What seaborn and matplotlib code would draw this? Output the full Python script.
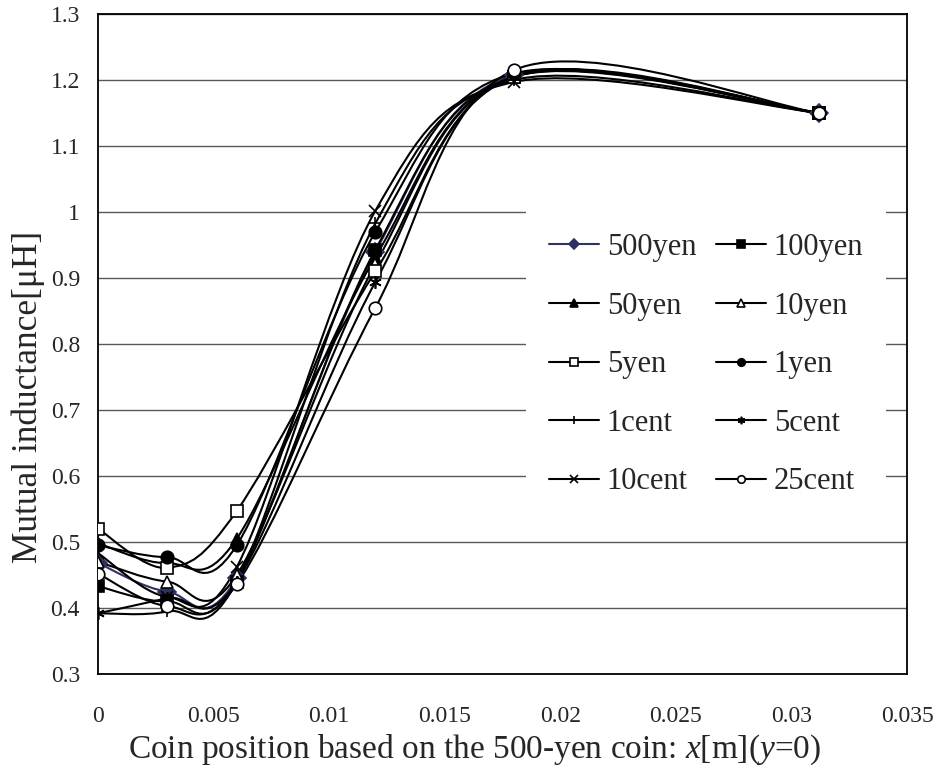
import numpy as np
import matplotlib
matplotlib.use("Agg")
import matplotlib.pyplot as plt
from matplotlib.path import Path
from matplotlib.patches import PathPatch
from matplotlib.lines import Line2D
import seaborn as sns

# --- data ---
x_pos = [0, 0.003, 0.006, 0.012, 0.018, 0.0312]

coins = ["500yen", "100yen", "50yen", "10yen", "5yen",
         "1yen", "1cent", "5cent", "10cent", "25cent"]

yen500 = [0.468, 0.425, 0.445, 0.940, 1.208, 1.150]
yen100 = [0.433, 0.410, 0.440, 0.943, 1.205, 1.150]
yen50 = [0.498, 0.468, 0.505, 0.932, 1.205, 1.150]
yen10 = [0.470, 0.440, 0.450, 0.921, 1.205, 1.150]
yen5 = [0.520, 0.461, 0.547, 0.910, 1.205, 1.150]
yen1 = [0.495, 0.477, 0.495, 0.970, 1.210, 1.150]
cent1 = [0.392, 0.395, 0.440, 0.983, 1.200, 1.150]
cent5 = [0.392, 0.415, 0.440, 0.894, 1.205, 1.150]
cent10 = [0.483, 0.417, 0.462, 1.002, 1.197, 1.150]
cent25 = [0.452, 0.403, 0.436, 0.855, 1.215, 1.150]

values = [yen500, yen100, yen50, yen10, yen5, yen1, cent1, cent5, cent10, cent25]

# marker style per coin: (marker, filled, colour)
NAVY = "#2e3163"
styles = {
    "500yen": ("D", True, NAVY),
    "100yen": ("s", True, "black"),
    "50yen": ("^", True, "black"),
    "10yen": ("^", False, "black"),
    "5yen": ("s", False, "black"),
    "1yen": ("o", True, "black"),
    "1cent": ("+", False, "black"),
    "5cent": ((6, 2, 0), False, "black"),
    "10cent": ("x", False, "black"),
    "25cent": ("o", False, "black"),
}


def smooth_path(xs, ys):
    """Excel-like smoothed line as cubic bezier segments through the points."""
    pts = np.column_stack([xs, ys])
    ext = np.vstack([pts[0], pts, pts[-1]])
    verts = [pts[0]]
    codes = [Path.MOVETO]
    for i in range(len(pts) - 1):
        p0, p1, p2, p3 = ext[i], ext[i + 1], ext[i + 2], ext[i + 3]
        c1 = p1 + (p2 - p0) / 6.0
        c2 = p2 - (p3 - p1) / 6.0
        verts += [c1, c2, p2]
        codes += [Path.CURVE4] * 3
    return Path(verts, codes)


sns.set_style("white")
plt.rcParams["font.family"] = ["Liberation Serif", "DejaVu Serif"]
plt.rcParams["mathtext.fontset"] = "custom"
plt.rcParams["mathtext.rm"] = "Liberation Serif"
plt.rcParams["mathtext.it"] = "Liberation Serif:italic"

fig = plt.figure(figsize=(9.39, 7.69), dpi=100)
ax = fig.add_axes([0.1044, 0.1235, 0.8616, 0.8583])

handles = {}
for name, vals in zip(coins, values):
    marker, filled, col = styles[name]
    patch = PathPatch(smooth_path(x_pos, vals), facecolor="none",
                      edgecolor=col, lw=1.5, zorder=3)
    ax.add_patch(patch)
    face = col if filled else "white"
    sns.lineplot(x=x_pos, y=vals, ax=ax, linestyle="none", marker=marker,
                 markersize=9, markerfacecolor=face, markeredgecolor=col,
                 markeredgewidth=1.2, color=col, errorbar=None, zorder=5)
    handles[name] = Line2D([], [], color=col, lw=1.5, marker=marker,
                           markersize=9, markerfacecolor=face,
                           markeredgecolor=col, markeredgewidth=1.2, label=name)

ax.set_xlim(0, 0.035)
ax.set_ylim(0.3, 1.3)
ax.set_xticks(np.arange(0, 0.0351, 0.005))
ax.set_yticks(np.arange(0.3, 1.301, 0.1))
ax.xaxis.set_major_formatter(matplotlib.ticker.FormatStrFormatter("%g"))
ax.yaxis.set_major_formatter(matplotlib.ticker.FuncFormatter(lambda v, p: "%g" % round(v, 2)))
ax.tick_params(axis="x", direction="in", length=5, width=1, pad=23, labelsize=17)
ax.tick_params(axis="y", direction="in", length=5, width=1, pad=13, labelsize=17)
ax.yaxis.grid(True, color="0.35", lw=1.0)
ax.xaxis.grid(False)
for sp in ax.spines.values():
    sp.set_color("black")
    sp.set_linewidth(1.3)

ax.set_xlabel(r"Coin position based on the 500-yen coin: $x$[m]($y$=0)", fontsize=24)
ax.set_ylabel("Mutual inductance[μH]", fontsize=25.5)
ax.xaxis.set_label_coords(0.466, -0.088)
ax.yaxis.set_label_coords(-0.066, 0.42)

# legend is read row-wise in the reference, matplotlib fills column-wise
leg_order = coins[0::2] + coins[1::2]
leg = ax.legend(handles=[handles[c] for c in leg_order], ncol=2, loc="upper left",
                bbox_to_anchor=(0.529, 0.703), fontsize=22, markerscale=0.6,
                handlelength=1.63, handletextpad=0.26, columnspacing=0.65,
                labelspacing=0.97, borderpad=0.75, frameon=True, fancybox=False,
                borderaxespad=0)
leg.get_frame().set_facecolor("white")
leg.get_frame().set_edgecolor("none")
leg.get_frame().set_alpha(1)
leg.set_zorder(10)

fig.savefig("out.png", dpi=100)
